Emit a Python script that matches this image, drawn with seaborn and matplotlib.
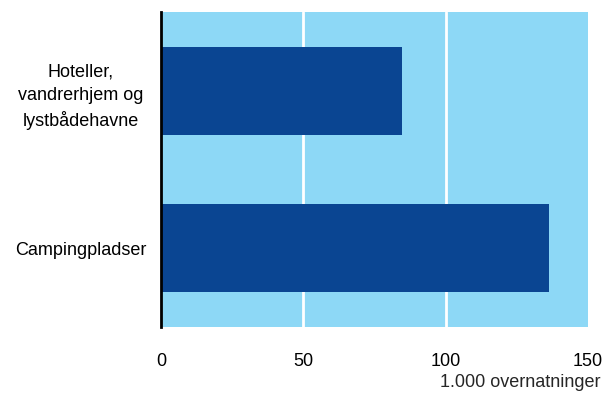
import pandas as pd
import seaborn as sns
import matplotlib.pyplot as plt

# Data
categories = ["Hoteller,\nvandrerhjem og\nlystbådehavne", "Campingpladser"]
values = [84.7, 136.3]
x_ticks = [0, 50, 100, 150]

bg_color = "#8dd8f6"
bar_color = "#0a4592"

sns.set_theme(style="white")
plt.rcParams['font.family'] = ['Liberation Sans', 'DejaVu Sans']

df = pd.DataFrame({"kategori": categories, "overnatninger": values})

fig = plt.figure(figsize=(6.11, 3.94), dpi=100)
ax = fig.add_axes([0.2635, 0.170, 0.699, 0.7995])
ax.set_facecolor(bg_color)

sns.barplot(data=df, y="kategori", x="overnatninger", orient="h",
            color=bar_color, saturation=1, width=0.557, linewidth=0,
            ax=ax, zorder=3)

for x in x_ticks[1:-1]:
    ax.axvline(x, color="white", lw=2, zorder=2)

ax.set_xlim(0, 150)
ax.set_ylim(1.5, -0.5)
ax.set_xticks(x_ticks)
ax.set_xticklabels([str(t) for t in x_ticks])
ax.tick_params(axis="both", length=0, labelsize=13, colors="black")
ax.tick_params(axis="x", pad=19)
ax.tick_params(axis="y", pad=58)
for lbl in ax.get_yticklabels():
    lbl.set_horizontalalignment("center")
    lbl.set_multialignment("center")
    lbl.set_linespacing(1.5)
ax.set_xlabel("")
ax.set_ylabel("")

for side in ["top", "right", "bottom"]:
    ax.spines[side].set_visible(False)
ax.spines["left"].set_color("black")
ax.spines["left"].set_linewidth(2)
ax.spines["left"].set_zorder(5)

fig.text(0.982, 0.008, "1.000 overnatninger", ha="right", va="bottom", fontsize=13)

fig.savefig("out.png", dpi=100)
